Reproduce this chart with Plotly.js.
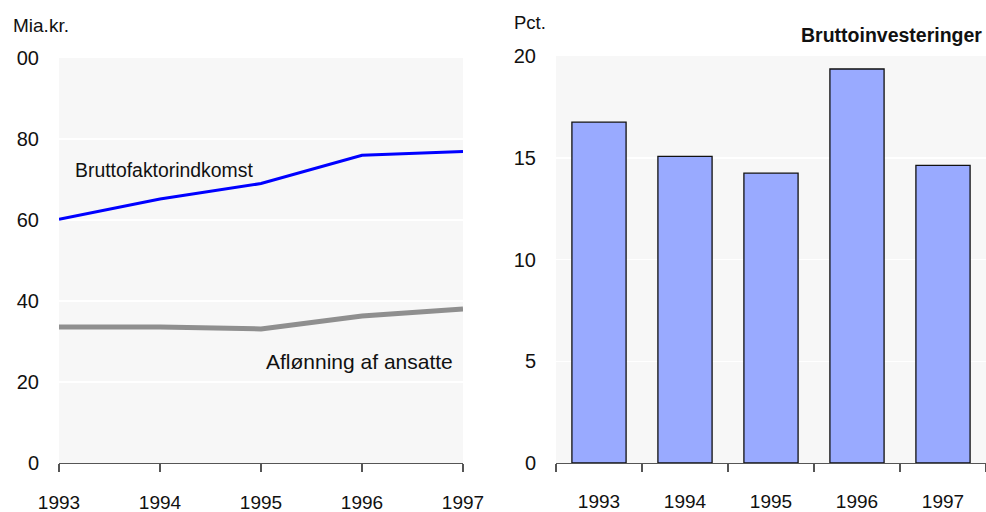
<!DOCTYPE html>
<html>
<head>
<meta charset="utf-8">
<script src="https://cdn.plot.ly/plotly-3.0.1.min.js"></script>
<style>
html,body{margin:0;padding:0;background:#fff;}
#chart{width:986px;height:512px;}
</style>
</head>
<body>
<div id="chart"></div>
<script>
// Data
const years = [1993, 1994, 1995, 1996, 1997];
const bruttofaktorindkomst = [60.2, 65.2, 69.0, 76.0, 76.9];
const aflonning = [33.6, 33.6, 33.1, 36.3, 38.0];
const barCategories = ["1993", "1994", "1995", "1996", "1997"];
const bruttoinvesteringer = [16.75, 15.07, 14.24, 19.36, 14.63];
const leftTickVals = [0, 20, 40, 60, 80, 100];
const leftTickText = ["0", "20", "40", "60", "80", "00"];
const rightTickVals = [0, 5, 10, 15, 20];

const FONT = '"Liberation Sans Narrow", "Arial Narrow", "Liberation Sans", Arial, sans-serif';
const W = 986, H = 512;
const px = v => v / W;
const py = v => (H - v) / H;

const traces = [
  {x: years, y: bruttofaktorindkomst, type: 'scatter', mode: 'lines',
   line: {color: '#0000ff', width: 3}, xaxis: 'x', yaxis: 'y', hoverinfo: 'skip'},
  {x: years, y: aflonning, type: 'scatter', mode: 'lines',
   line: {color: '#8f8f8f', width: 5}, xaxis: 'x', yaxis: 'y', hoverinfo: 'skip'},
  {x: barCategories, y: bruttoinvesteringer, type: 'bar', width: 0.63,
   marker: {color: '#99aaff', line: {color: '#111111', width: 1.3}},
   xaxis: 'x2', yaxis: 'y2', hoverinfo: 'skip'}
];

const xTickFont = {family: FONT, size: 19, color: '#111'};
const yTickFont = {family: FONT, size: 20, color: '#111'};

const layout = {
  width: W, height: H,
  margin: {l: 0, r: 0, t: 0, b: 0},
  paper_bgcolor: '#ffffff',
  plot_bgcolor: '#f7f7f7',
  showlegend: false,
  font: {family: FONT, size: 20, color: '#111'},
  xaxis: {
    domain: [px(59), px(463)], range: [1993, 1997], type: 'linear',
    tickvals: years, ticks: 'outside', ticklen: 8, tickcolor: '#555', tickwidth: 1.2,
    showline: true, linecolor: '#555', linewidth: 1.2, showgrid: false, zeroline: false,
    tickfont: xTickFont, ticklabelstandoff: 14, anchor: 'y', fixedrange: true
  },
  yaxis: {
    domain: [py(463), py(58)], range: [0, 100],
    tickvals: leftTickVals, ticktext: leftTickText, ticks: '',
    showgrid: true, gridcolor: '#ffffff', gridwidth: 1.5, zeroline: false, showline: false,
    tickfont: yTickFont, ticklabelstandoff: 19, anchor: 'x', fixedrange: true
  },
  xaxis2: {
    domain: [px(556), 1], range: [-0.5, 4.5], type: 'category',
    ticks: 'outside', tickson: 'boundaries', ticklen: 8, tickcolor: '#555', tickwidth: 1.2,
    showline: true, linecolor: '#555', linewidth: 1.2, showgrid: false, zeroline: false,
    tickfont: xTickFont, ticklabelstandoff: 21, anchor: 'y2', fixedrange: true
  },
  yaxis2: {
    domain: [py(463), py(56)], range: [0, 20],
    tickvals: rightTickVals, ticks: '',
    showgrid: true, gridcolor: '#ffffff', gridwidth: 1.5, zeroline: false, showline: false,
    tickfont: yTickFont, ticklabelstandoff: 19, anchor: 'x2', fixedrange: true
  },
  annotations: [
    {text: 'Mia.kr.', xref: 'paper', yref: 'paper', x: px(11), y: py(25), xanchor: 'left', yanchor: 'middle',
     showarrow: false, font: {family: FONT, size: 19, color: '#111'}},
    {text: 'Pct.', xref: 'paper', yref: 'paper', x: px(512), y: py(22), xanchor: 'left', yanchor: 'middle',
     showarrow: false, font: {family: FONT, size: 18.5, color: '#111'}},
    {text: '<b>Bruttoinvesteringer</b>', xref: 'paper', yref: 'paper', x: px(984), y: py(35), xanchor: 'right', yanchor: 'middle',
     showarrow: false, font: {family: FONT, size: 19.5, color: '#111'}},
    {text: 'Bruttofaktorindkomst', xref: 'paper', yref: 'paper', x: px(73), y: py(170), xanchor: 'left', yanchor: 'middle',
     showarrow: false, font: {family: FONT, size: 19.4, color: '#111'}},
    {text: 'Aflønning af ansatte', xref: 'paper', yref: 'paper', x: px(264), y: py(361), xanchor: 'left', yanchor: 'middle',
     showarrow: false, font: {family: FONT, size: 21, color: '#111'}}
  ]
};

Plotly.newPlot('chart', traces, layout, {staticPlot: true, displayModeBar: false});
</script>
</body>
</html>
